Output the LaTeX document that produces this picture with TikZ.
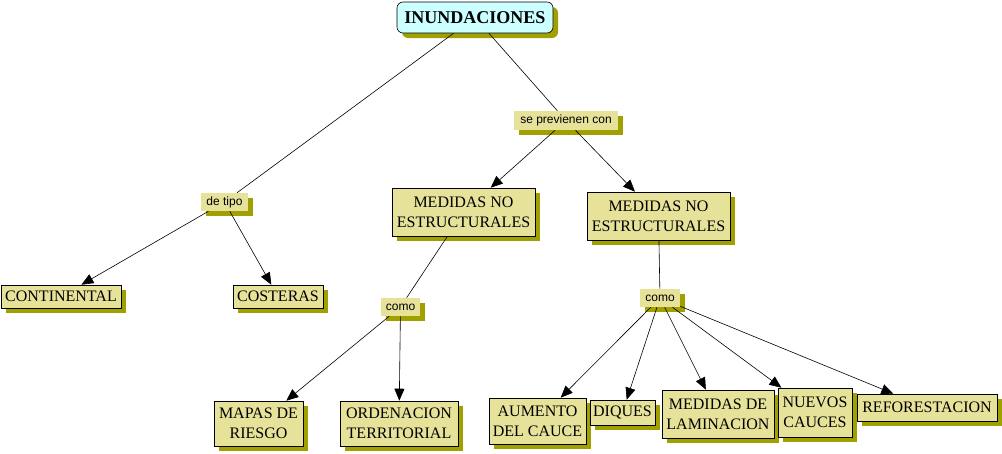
\documentclass[tikz,border=0pt]{standalone}
\usepackage{fontspec}
\setmainfont{Liberation Serif}
\setsansfont{Liberation Sans}
\usetikzlibrary{arrows.meta, shadows, positioning}
\definecolor{conceptfill}{RGB}{230,226,154}
\definecolor{shadowolive}{RGB}{160,160,0}
\definecolor{rootfill}{RGB}{204,255,255}

\tikzset{
    concept/.style={draw=black, fill=conceptfill, align=center, inner sep=1pt,
        font=\fontsize{16}{20}\selectfont,
        drop shadow={shadow xshift=5pt, shadow yshift=-5pt, fill=shadowolive, opacity=1}},
    linkword/.style={fill=conceptfill, inner sep=1pt, font=\sffamily\fontsize{12}{14}\selectfont,
        drop shadow={shadow xshift=5pt, shadow yshift=-5pt, fill=shadowolive, opacity=1}},
    root/.style={concept, fill=rootfill, rounded corners=6pt, font=\bfseries\fontsize{18}{20}\selectfont},
    arr/.style={-{Triangle[length=12pt, width=10pt]}},
}

\begin{document}
\begin{tikzpicture}[x=1pt, y=-1pt, line width=0.6pt]
        \useasboundingbox (0,0) rectangle (1002,453);
        % top
        \node[root, minimum width=156pt, minimum height=31pt] (inund) at (475,17.5) {INUNDACIONES};
        \node[linkword, minimum width=104pt, minimum height=19pt] (previenen) at (566,120.5) {se previenen con};
        \node[linkword, minimum width=47pt, minimum height=18pt] (tipo) at (224.5,202) {de tipo};
        % tipos
        \node[concept, minimum width=120pt, minimum height=23pt] (continental) at (61,296.5) {CONTINENTAL};
        \node[concept, minimum width=90pt, minimum height=23pt] (costeras) at (278,296.5) {COSTERAS};
        % medidas
        \node[concept, minimum width=143pt, minimum height=48pt] (medizq) at (463.5,212) {MEDIDAS NO\\ESTRUCTURALES};
        \node[concept, minimum width=143pt, minimum height=48pt] (medder) at (658.5,216) {MEDIDAS NO\\ESTRUCTURALES};
        \node[linkword, minimum width=39pt, minimum height=18pt] (comoizq) at (400.5,307) {como};
        \node[linkword, minimum width=40pt, minimum height=18pt] (comoder) at (660,298) {como};
        % hojas izquierda
        \node[concept, minimum width=89pt, minimum height=45pt] (mapas) at (258.5,423.5) {MAPAS DE\\RIESGO};
        \node[concept, minimum width=118pt, minimum height=45pt] (ordenacion) at (399,423.5) {ORDENACION\\TERRITORIAL};
        % hojas derecha
        \node[concept, minimum width=97pt, minimum height=46pt] (aumento) at (537.5,421) {AUMENTO\\DEL CAUCE};
        \node[concept, minimum width=65pt, minimum height=25pt] (diques) at (622.5,412.5) {DIQUES};
        \node[concept, minimum width=112pt, minimum height=48pt] (laminacion) at (718,414) {MEDIDAS DE\\LAMINACION};
        \node[concept, minimum width=74pt, minimum height=49pt] (nuevos) at (815,412.5) {NUEVOS\\CAUCES};
        \node[concept, minimum width=140pt, minimum height=27pt] (reforest) at (927,407.5) {REFORESTACION};

        \draw (inund) -- (tipo);
        \draw[arr] (tipo) -- (continental);
        \draw[arr] (tipo) -- (costeras);
        \draw (inund) -- (previenen);
        \draw[arr] (previenen) -- (medizq);
        \draw[arr] (previenen) -- (medder);
        \draw (medizq) -- (comoizq);
        \draw[arr] (comoizq) -- (mapas);
        \draw[arr] (comoizq) -- (ordenacion);
        \draw (medder) -- (comoder);
        \draw[arr] (comoder) -- (aumento);
        \draw[arr] (comoder) -- (diques);
        \draw[arr] (comoder) -- (laminacion);
        \draw[arr] (comoder) -- (nuevos);
        \draw[arr] (comoder) -- (reforest);
    \end{tikzpicture}
\end{document}
